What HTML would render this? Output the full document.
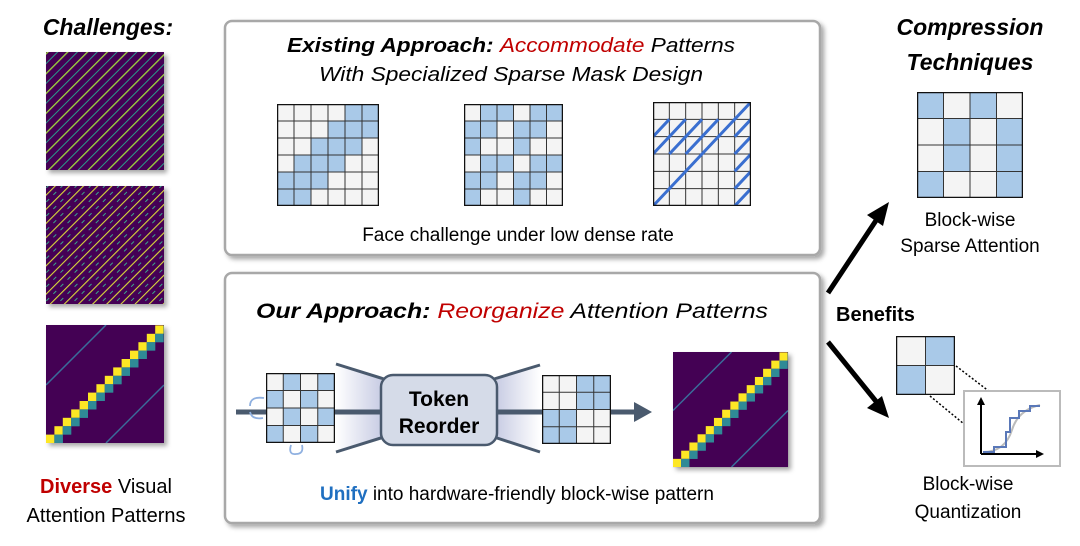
<!DOCTYPE html>
<html><head><meta charset="utf-8"><style>
html,body{margin:0;padding:0;background:#fff;}
svg{display:block;}
text{font-family:"Liberation Sans",sans-serif;}
</style></head><body>
<svg width="1080" height="546" viewBox="0 0 1080 546" xmlns="http://www.w3.org/2000/svg">
<defs>
<filter id="sh" x="-10%" y="-10%" width="130%" height="130%"><feDropShadow dx="3" dy="3" stdDeviation="2.5" flood-color="#000" flood-opacity="0.35"/></filter>
<linearGradient id="fl" x1="0" x2="1"><stop offset="0" stop-color="#fff"/><stop offset="1" stop-color="#c9cde4"/></linearGradient>
<linearGradient id="fr" x1="1" x2="0"><stop offset="0" stop-color="#fff"/><stop offset="1" stop-color="#c9cde4"/></linearGradient>
<pattern id="d1" width="14" height="14" patternUnits="userSpaceOnUse" patternTransform="rotate(-45)">
<rect width="14" height="14" fill="#440154"/><rect y="0" width="14" height="1.3" fill="#9fd83c"/><rect y="7" width="14" height="1" fill="#2a9c8a"/></pattern>
<pattern id="d2" width="10" height="10" patternUnits="userSpaceOnUse" patternTransform="rotate(-45)">
<rect width="10" height="10" fill="#440154"/><rect y="0" width="10" height="1.1" fill="#d9d83a"/><rect y="5" width="4" height="1" fill="#3aa88a"/></pattern>
<g id="blk"><rect width="8.4" height="8.4" fill="#fde725"/><rect x="8.4" width="8.4" height="8.4" fill="#2f8a96"/><rect y="8.4" width="8.4" height="8.4" fill="#2f8a96"/></g>
<clipPath id="cp"><rect width="118" height="118"/></clipPath>
<g id="hm3">
<rect width="118" height="118" fill="#440154"/>
<g clip-path="url(#cp)">
<line x1="0" y1="60" x2="60" y2="0" stroke="#3a6d9a" stroke-width="1.5"/>
<line x1="60" y1="118" x2="118" y2="60" stroke="#3a6d9a" stroke-width="1.5"/>
<use href="#blk" x="0" y="109.6"/><use href="#blk" x="8.4" y="101.2"/><use href="#blk" x="16.8" y="92.8"/><use href="#blk" x="25.2" y="84.4"/><use href="#blk" x="33.6" y="76"/><use href="#blk" x="42" y="67.6"/><use href="#blk" x="50.4" y="59.2"/><use href="#blk" x="58.8" y="50.8"/><use href="#blk" x="67.2" y="42.4"/><use href="#blk" x="75.6" y="34"/><use href="#blk" x="84" y="25.6"/><use href="#blk" x="92.4" y="17.2"/><use href="#blk" x="100.8" y="8.8"/><use href="#blk" x="109.2" y="0.4"/>
</g>
</g>
</defs>

<!-- Left column -->
<text x="108" y="35" font-size="23" font-weight="bold" font-style="italic" text-anchor="middle">Challenges:</text>
<rect x="46" y="52" width="118" height="118" fill="url(#d1)" filter="url(#sh)"/>
<rect x="46" y="186" width="118" height="118" fill="url(#d2)" filter="url(#sh)"/>
<rect x="46" y="325" width="118" height="118" fill="#440154" filter="url(#sh)"/>
<use href="#hm3" x="46" y="325"/>
<text x="106" y="493" font-size="20" text-anchor="middle"><tspan fill="#c00000" font-weight="bold">Diverse</tspan> Visual</text>
<text x="106" y="522" font-size="20" text-anchor="middle">Attention Patterns</text>

<!-- Top box -->
<rect x="225" y="21" width="595" height="234" rx="7" fill="#fff" stroke="#a8a8a8" stroke-width="2.5" filter="url(#sh)"/>
<text x="511" y="52" font-size="20" font-style="italic" text-anchor="middle" textLength="448" lengthAdjust="spacingAndGlyphs"><tspan font-weight="bold">Existing Approach: </tspan><tspan fill="#c00000">Accommodate</tspan> Patterns</text>
<text x="511" y="81" font-size="20" font-style="italic" text-anchor="middle" textLength="384" lengthAdjust="spacingAndGlyphs">With Specialized Sparse Mask Design</text>

<svg x="277" y="104" width="102" height="102" viewBox="0 0 6 6">
<rect width="6" height="6" fill="#f4f4f4"/>
<g fill="#a9c9e8"><rect x="4" y="0" width="2" height="1"/><rect x="3" y="1" width="3" height="1"/><rect x="2" y="2" width="3" height="1"/><rect x="1" y="3" width="3" height="1"/><rect x="0" y="4" width="3" height="1"/><rect x="0" y="5" width="2" height="1"/></g>
<path d="M1 0V6M2 0V6M3 0V6M4 0V6M5 0V6M0 1H6M0 2H6M0 3H6M0 4H6M0 5H6" stroke="#333" stroke-width="1" vector-effect="non-scaling-stroke"/>
<rect width="6" height="6" fill="none" stroke="#111" stroke-width="2.5" vector-effect="non-scaling-stroke"/>
</svg>
<svg x="464" y="104" width="99" height="102" viewBox="0 0 6 6" preserveAspectRatio="none">
<rect width="6" height="6" fill="#f4f4f4"/>
<g fill="#a9c9e8"><rect x="1" y="0" width="2" height="1"/><rect x="4" y="0" width="2" height="1"/><rect x="0" y="1" width="2" height="1"/><rect x="3" y="1" width="2" height="1"/><rect x="0" y="2" width="1" height="1"/><rect x="3" y="2" width="1" height="1"/><rect x="1" y="3" width="2" height="1"/><rect x="4" y="3" width="2" height="1"/><rect x="0" y="4" width="2" height="1"/><rect x="3" y="4" width="2" height="1"/><rect x="0" y="5" width="1" height="1"/><rect x="3" y="5" width="1" height="1"/></g>
<path d="M1 0V6M2 0V6M3 0V6M4 0V6M5 0V6M0 1H6M0 2H6M0 3H6M0 4H6M0 5H6" stroke="#333" stroke-width="1" vector-effect="non-scaling-stroke"/>
<rect width="6" height="6" fill="none" stroke="#111" stroke-width="2.5" vector-effect="non-scaling-stroke"/>
</svg>
<svg x="653" y="102" width="98" height="104" viewBox="0 0 6 6" preserveAspectRatio="none">
<rect width="6" height="6" fill="#f4f4f4"/>
<path d="M1 0V6M2 0V6M3 0V6M4 0V6M5 0V6M0 1H6M0 2H6M0 3H6M0 4H6M0 5H6" stroke="#333" stroke-width="1" vector-effect="non-scaling-stroke"/>
<path d="M0 6L6 0M0 2L1 1M1 2L2 1M2 2L3 1M3 2L4 1M0 3L1 2M1 3L2 2M2 3L3 2M5 2L6 1M5 3L6 2M5 4L6 3M5 5L6 4M5 6L6 5" stroke="#3a6fd0" stroke-width="3" vector-effect="non-scaling-stroke" fill="none"/>
<rect width="6" height="6" fill="none" stroke="#111" stroke-width="2.5" vector-effect="non-scaling-stroke"/>
</svg>
<text x="518" y="241" font-size="19" text-anchor="middle">Face challenge under low dense rate</text>

<!-- Bottom box -->
<rect x="225" y="273" width="595" height="250" rx="7" fill="#fff" stroke="#a8a8a8" stroke-width="2.5" filter="url(#sh)"/>
<text x="512" y="318" font-size="21" font-style="italic" text-anchor="middle" textLength="512" lengthAdjust="spacingAndGlyphs"><tspan font-weight="bold">Our Approach: </tspan><tspan fill="#c00000">Reorganize</tspan> Attention Patterns</text>

<polygon points="336,364 381,378 381,438 336,452" fill="url(#fl)"/>
<polygon points="540,365 497,378 497,438 540,452" fill="url(#fr)"/>
<line x1="336" y1="364" x2="384" y2="379" stroke="#4a5a6e" stroke-width="3"/>
<line x1="336" y1="452" x2="384" y2="437" stroke="#4a5a6e" stroke-width="3"/>
<line x1="540" y1="365" x2="494" y2="379" stroke="#4a5a6e" stroke-width="3"/>
<line x1="540" y1="452" x2="494" y2="437" stroke="#4a5a6e" stroke-width="3"/>
<line x1="236" y1="412" x2="636" y2="412" stroke="#4a5a6e" stroke-width="5"/>
<polygon points="634,402 652,412 634,422" fill="#4a5a6e"/>

<svg x="266" y="373" width="69" height="70" viewBox="0 0 4 4" preserveAspectRatio="none">
<rect width="4" height="4" fill="#f4f4f4"/>
<g fill="#a9c9e8"><rect x="1" y="0" width="1" height="1"/><rect x="3" y="0" width="1" height="1"/><rect x="0" y="1" width="1" height="1"/><rect x="2" y="1" width="1" height="1"/><rect x="1" y="2" width="1" height="1"/><rect x="3" y="2" width="1" height="1"/><rect x="0" y="3" width="1" height="1"/><rect x="2" y="3" width="1" height="1"/></g>
<path d="M1 0V4M2 0V4M3 0V4M0 1H4M0 2H4M0 3H4" stroke="#333" stroke-width="1" vector-effect="non-scaling-stroke"/>
<rect width="4" height="4" fill="none" stroke="#111" stroke-width="2.5" vector-effect="non-scaling-stroke"/>
</svg>
<path d="M264 398 Q250 396 250 406" stroke="#8fb0e0" stroke-width="1.8" fill="none"/>
<path d="M250 412 Q252 420 263 418" stroke="#8fb0e0" stroke-width="1.8" fill="none"/>
<path d="M291 445 Q288 455 296 454 Q304 454 302 445" stroke="#8fb0e0" stroke-width="1.8" fill="none"/>

<rect x="381" y="375" width="116" height="70" rx="12" fill="#d5dbe8" stroke="#4a5a6e" stroke-width="2.5"/>
<text x="439" y="406" font-size="21" font-weight="bold" text-anchor="middle">Token</text>
<text x="439" y="433" font-size="21" font-weight="bold" text-anchor="middle">Reorder</text>

<svg x="542" y="375" width="69" height="69" viewBox="0 0 4 4" preserveAspectRatio="none">
<rect width="4" height="4" fill="#f4f4f4"/>
<g fill="#a9c9e8"><rect x="2" y="0" width="2" height="2"/><rect x="0" y="2" width="2" height="2"/></g>
<path d="M1 0V4M2 0V4M3 0V4M0 1H4M0 2H4M0 3H4" stroke="#333" stroke-width="1" vector-effect="non-scaling-stroke"/>
<rect width="4" height="4" fill="none" stroke="#111" stroke-width="2.5" vector-effect="non-scaling-stroke"/>
</svg>

<rect x="673" y="352" width="115" height="115" fill="#440154" filter="url(#sh)"/>
<g transform="translate(673,352) scale(0.975)"><use href="#hm3"/></g>
<text x="517" y="500" font-size="19" text-anchor="middle"><tspan fill="#1f6fc0" font-weight="bold">Unify</tspan> into hardware-friendly block-wise pattern</text>

<!-- Right column -->
<text x="970" y="35" font-size="23" font-weight="bold" font-style="italic" text-anchor="middle">Compression</text>
<text x="970" y="70" font-size="23" font-weight="bold" font-style="italic" text-anchor="middle">Techniques</text>
<svg x="917" y="92" width="106" height="106" viewBox="0 0 4 4">
<rect width="4" height="4" fill="#f4f4f4"/>
<g fill="#a9c9e8"><rect x="0" y="0" width="1" height="1"/><rect x="2" y="0" width="1" height="1"/><rect x="1" y="1" width="1" height="2"/><rect x="3" y="1" width="1" height="3"/><rect x="0" y="3" width="1" height="1"/></g>
<path d="M1 0V4M2 0V4M3 0V4M0 1H4M0 2H4M0 3H4" stroke="#333" stroke-width="1" vector-effect="non-scaling-stroke"/>
<rect width="4" height="4" fill="none" stroke="#111" stroke-width="2.5" vector-effect="non-scaling-stroke"/>
</svg>
<text x="970" y="226" font-size="19" text-anchor="middle">Block-wise</text>
<text x="970" y="252" font-size="19" text-anchor="middle">Sparse Attention</text>

<line x1="828" y1="293" x2="879" y2="216" stroke="#000" stroke-width="5"/>
<polygon points="889,202 883,226 867,215" fill="#000"/>
<line x1="828" y1="342" x2="879" y2="405" stroke="#000" stroke-width="5"/>
<polygon points="889,418 867,408 882,396" fill="#000"/>
<text x="836" y="321" font-size="20" font-weight="bold">Benefits</text>

<svg x="896" y="336" width="59" height="59" viewBox="0 0 2 2">
<rect width="2" height="2" fill="#f4f4f4"/>
<rect x="1" y="0" width="1" height="1" fill="#a9c9e8"/><rect x="0" y="1" width="1" height="1" fill="#a9c9e8"/>
<path d="M1 0V2M0 1H2" stroke="#333" stroke-width="1" vector-effect="non-scaling-stroke"/>
<rect width="2" height="2" fill="none" stroke="#111" stroke-width="2.5" vector-effect="non-scaling-stroke"/>
</svg>
<line x1="956" y1="366" x2="990" y2="392" stroke="#000" stroke-width="1.5" stroke-dasharray="2 2"/>
<line x1="930" y1="396" x2="964" y2="424" stroke="#000" stroke-width="1.5" stroke-dasharray="2 2"/>
<rect x="964" y="391" width="96" height="75" fill="#fff" stroke="#bbb" stroke-width="2"/>
<line x1="981" y1="454" x2="1038" y2="454" stroke="#000" stroke-width="2"/>
<polygon points="1044,454 1036,450 1036,458" fill="#000"/>
<line x1="981" y1="454" x2="981" y2="403" stroke="#000" stroke-width="2"/>
<polygon points="981,397 977,405 985,405" fill="#000"/>
<path d="M983 452 Q1005 452 1012 430 Q1018 410 1040 405" stroke="#bbb" stroke-width="2" fill="none"/>
<polyline points="983,452 994,452 994,447 1006,447 1006,432 1010,432 1010,418 1019,418 1019,411 1030,411 1030,406 1040,406" stroke="#5a78b8" stroke-width="2" fill="none"/>
<text x="968" y="490" font-size="19" text-anchor="middle">Block-wise</text>
<text x="968" y="518" font-size="19" text-anchor="middle">Quantization</text>
</svg>
</body></html>
